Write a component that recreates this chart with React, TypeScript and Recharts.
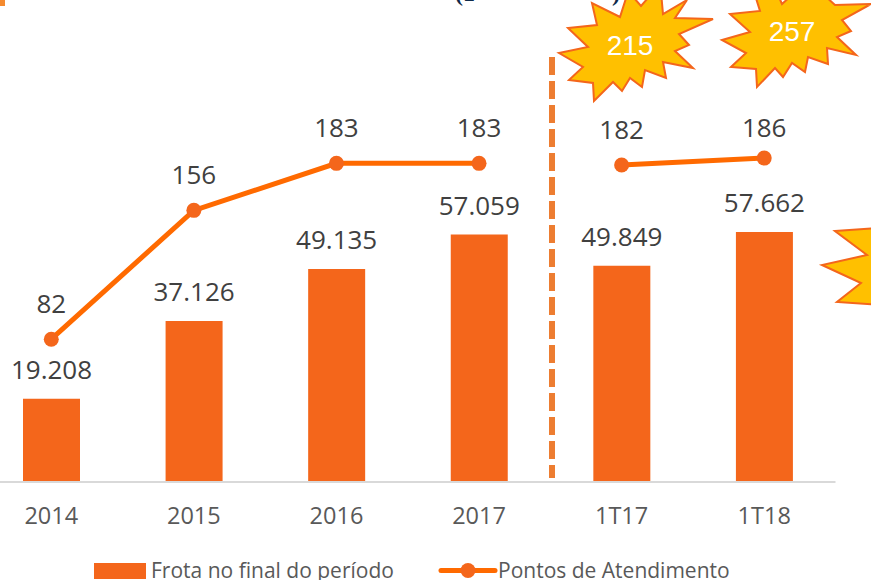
import React from "react";
import { ComposedChart, Bar, Line, XAxis, YAxis, LabelList, Legend } from "recharts";

const categories = ["2014", "2015", "2016", "2017", "1T17", "1T18"];
const frota = [19208, 37126, 49135, 57059, 49849, 57662];
const pontosAnual = [82, 156, 183, 183, null, null];
const pontosTrimestre = [null, null, null, null, 182, 186];
const seriesNames = { frota: "Frota no final do período", pontos: "Pontos de Atendimento" };

const data = categories.map((c, i) => ({
  c,
  frota: frota[i],
  pontosAnual: pontosAnual[i],
  pontosTrimestre: pontosTrimestre[i],
}));

const FONT = "'Open Sans', sans-serif";
const BAR = "#F4661B";
const LINE = "#FF6A00";
const fmt = (v: number) => String(v).replace(/(\d)(\d{3})$/, "$1.$2");

const star215 = [[559,53],[588,47],[568,28],[597,25],[592,3],[620,17],[628,-8],[634,-2],[641,6],[648,-2],[661,-8],[663,14],[687,0],[675,18],[713,19],[679,34],[689,45],[675,51],[693,68],[663,62],[666,78],[645,70],[642,87],[630,78],[622,91],[613,82],[594,101],[593,83],[569,80],[583,67]];
const star257 = [[722,40],[750,32],[730,14],[760,11],[755,-5],[778,-5],[782,4],[792,-5],[824,-5],[835,5],[871,4],[842,20],[851,31],[837,37],[856,55],[827,48],[828,64],[808,57],[805,72],[792,63],[783,77],[775,68],[757,87],[756,69],[731,67],[746,53]];
const starRight = [[835,231],[880,228],[880,305],[837,302],[861,283],[822,265],[867,255]];
const pts = (a: number[][]) => a.map((p) => p.join(",")).join(" ");

function LegendContent({ payload }: any) {
  const lefts = [94, 438];
  const textLefts = [151, 498];
  const items = (payload || []).filter((e: any) => e.value === seriesNames.frota || e.value === seriesNames.pontos);
  return (
    <div style={{ position: "relative", width: 871, height: 24, fontFamily: FONT, fontSize: 21, color: "#595959" }}>
      {items.map((e: any, i: number) => (
        <React.Fragment key={i}>
          <svg width={60} height={24} style={{ position: "absolute", left: lefts[i], top: 0 }}>
            {i === 0 ? (
              <rect x={0} y={3} width={52} height={16} fill={BAR} />
            ) : (
              <>
                <line x1={3} x2={57} y1={10.5} y2={10.5} stroke={LINE} strokeWidth={5} strokeLinecap="round" />
                <circle cx={30} cy={10.5} r={7.5} fill={BAR} />
              </>
            )}
          </svg>
          <span style={{ position: "absolute", left: textLefts[i], top: -4, whiteSpace: "nowrap" }}>{e.value}</span>
        </React.Fragment>
      ))}
    </div>
  );
}

function PointLabel({ x, y, value, index }: any) {
  if (value == null) return null;
  return (
    <text x={x} y={y - (index === 5 ? 21 : 26)} textAnchor="middle" fill="#404040" fontSize={26} fontFamily={FONT}>
      {value}
    </text>
  );
}

export default function App() {
  return (
    <div style={{ position: "absolute", left: 0, top: 0, width: 871, height: 580, overflow: "hidden", background: "#fff" }}>
      <div style={{ position: "absolute", left: -40, top: 0 }}>
        <ComposedChart
          width={911}
          height={580}
          data={data}
          margin={{ left: 20, right: 35.5, top: 48.4, bottom: 0 }}
          barCategoryGap={0}
        >
          <XAxis
            dataKey="c"
            axisLine={{ stroke: "#D9D9D9", strokeWidth: 2 }}
            tickLine={false}
            tick={{ fill: "#595959", fontSize: 23.5, fontFamily: FONT }}
            tickMargin={19}
            interval={0}
            height={74}
          />
          <YAxis yAxisId="f" hide domain={[0, 100000]} />
          <YAxis yAxisId="p" hide orientation="right" domain={[0, 249]} />
          <Legend
            verticalAlign="bottom"
            height={24}
            content={<LegendContent />}
            wrapperStyle={{ position: "absolute", left: 40, top: 560, width: 871, height: 24 }}
          />
          <Bar yAxisId="f" dataKey="frota" name={seriesNames.frota} fill={BAR} barSize={57} isAnimationActive={false}>
            <LabelList dataKey="frota" position="top" offset={20} formatter={fmt} fill="#404040" fontSize={26} fontFamily={FONT} />
          </Bar>
          <Line yAxisId="p" dataKey="pontosAnual" name={seriesNames.pontos} stroke={LINE} strokeWidth={5} dot={{ r: 7.5, fill: BAR, stroke: BAR, strokeWidth: 0 }} connectNulls={false} isAnimationActive={false}>
            <LabelList dataKey="pontosAnual" content={<PointLabel />} />
          </Line>
          <Line yAxisId="p" dataKey="pontosTrimestre" legendType="none" stroke={LINE} strokeWidth={5} dot={{ r: 7.5, fill: BAR, stroke: BAR, strokeWidth: 0 }} connectNulls={false} isAnimationActive={false}>
            <LabelList dataKey="pontosTrimestre" content={<PointLabel />} />
          </Line>
        </ComposedChart>
      </div>
      <svg width={871} height={580} style={{ position: "absolute", left: 0, top: 0, pointerEvents: "none" }}>
        <rect x={0} y={0} width={5} height={6} fill="#F58A2E" />
        <text x={455} y={1} fontFamily="'Liberation Serif', serif" fontWeight={700} fontSize={24} fill="#0F2A4A">(1</text>
        <text x={612} y={1} fontFamily="'Liberation Serif', serif" fontWeight={700} fontSize={24} fill="#0F2A4A">)</text>
        <line x1={552} x2={552} y1={57} y2={478} stroke="#ED7D31" strokeWidth={6} strokeDasharray="18 6" />
        <polygon points={pts(star215)} fill="#FFC000" stroke={BAR} strokeWidth={2} />
        <polygon points={pts(star257)} fill="#FFC000" stroke={BAR} strokeWidth={2} />
        <polygon points={pts(starRight)} fill="#FFC000" stroke={BAR} strokeWidth={2} />
        <text x={630} y={55} textAnchor="middle" fontFamily="'Liberation Sans', sans-serif" fontSize={28} fill="#fff">215</text>
        <text x={792} y={41} textAnchor="middle" fontFamily="'Liberation Sans', sans-serif" fontSize={28} fill="#fff">257</text>
      </svg>
    </div>
  );
}
